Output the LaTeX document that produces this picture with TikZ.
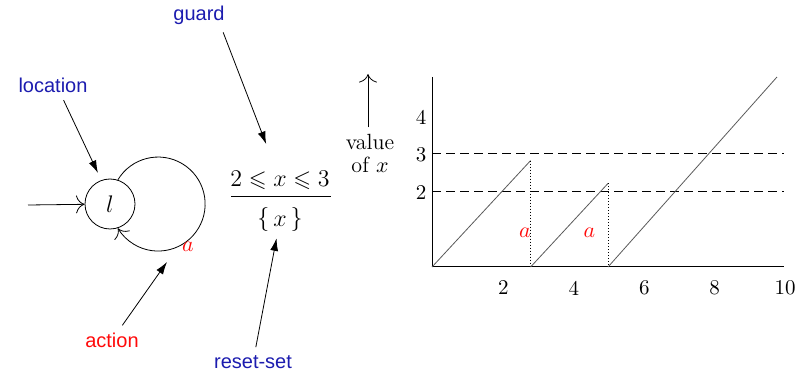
\documentclass[tikz,border=0pt]{standalone}
\usepackage{amssymb}
\usepackage{fontspec}
\newfontfamily\labelsf{Liberation Sans}
\usetikzlibrary{arrows.meta}
\definecolor{tagblue}{RGB}{28,28,175}
\definecolor{tagred}{RGB}{255,10,10}

\begin{document}
\begin{tikzpicture}[x=0.5pt,y=0.5pt]
  \useasboundingbox (0,0) rectangle (812,375);
  \tikzset{
    tag/.style={font=\labelsf\fontsize{10}{12}\selectfont,inner sep=1pt},
    pointer/.style={-{Latex[length=2.2mm,width=1.4mm]},line width=0.4pt},
    thinarrow/.style={-{To[length=1.5mm]},line width=0.4pt},
    numtag/.style={font=\fontsize{10.5}{12}\selectfont,inner sep=0pt},
    acttag/.style={font=\fontsize{11}{13}\selectfont,text=tagred,inner sep=0pt}
  }
  % automaton with one location and a self loop
  \node[circle,draw,line width=0.4pt,minimum size=25pt,inner sep=0pt,
        font=\fontsize{13}{15}\selectfont] (loc) at (110,171) {$l$};
  \coordinate (init) at (28,170);
  \draw[thinarrow] (init) -- (loc);
  \draw[thinarrow] (loc.72) arc[start angle=149,end angle=-149,radius=47];
  \node[acttag] (act) at (188,128) {$a$};
  \coordinate (looptip) at (167,113);
  % guard and reset set
  \node[font=\fontsize{11.5}{14}\selectfont,inner sep=1pt] (guardexpr) at (280,195) {$2\leqslant x\leqslant 3$};
  \node[font=\fontsize{11.5}{14}\selectfont,inner sep=1pt] (resetexpr) at (280,155) {$\{\,x\,\}$};
  \draw[line width=0.4pt] (231,179) -- (331,179);
  % labels
  \node[tag,text=tagblue] (location) at (53,290) {location};
  \node[tag,text=tagblue] (guard) at (199,360) {guard};
  \node[tag,text=tagred] (action) at (112,35) {action};
  \node[tag,text=tagblue] (reset) at (253,13) {reset-set};
  \draw[pointer,shorten <=3pt,shorten >=4pt] ([xshift=4pt]location.south) -- (loc.110);
  \draw[pointer,shorten <=3pt,shorten >=13pt] ([xshift=-3pt]guard.south east) -- (guardexpr);
  \draw[pointer,shorten <=3pt] (action) -- (looptip);
  \draw[pointer,shorten <=3pt,shorten >=2pt] (reset) -- (resetexpr);
  % value of x
  \node[align=center,font=\fontsize{11}{11.5}\selectfont,inner sep=1pt] (valx) at (370,222) {value\\of $x$};
  \coordinate (valtop) at (368,301);
  \draw[thinarrow,shorten <=2pt] (valx.north -| valtop) -- (valtop);
  % run of the clock
  \begin{scope}[shift={(432,108)},x=17.6pt,y=19pt]
    \draw[line width=0.5pt] (0,5) -- (0,0) -- (10,0);
    \foreach \v in {2,3}
      \draw[line width=0.4pt,dash pattern=on 4.5pt off 2.5pt] (0,\v) -- (10,\v);
    \foreach \t in {2,4,6,8,10}
      \node[numtag] (tick\t) at (\t+0.03,-0.55) {\t};
    \foreach \t in {2,3,4}
      \node[numtag] (lvl\t) at (-0.31,\t-0.05) {\t};
    \draw[line width=0.4pt,black!65] (0,0) -- (2.8,2.8);
    \draw[line width=0.4pt,dash pattern=on 0.5pt off 1pt] (2.8,2.8) -- (2.8,0);
    \draw[line width=0.4pt,black!65] (2.8,0) -- (5,2.2);
    \draw[line width=0.4pt,dash pattern=on 0.5pt off 1pt] (5,2.2) -- (5,0);
    \draw[line width=0.4pt,black!65] (5,0) -- (9.8,5);
    \node[acttag] (act1) at (2.64,0.9) {$a$};
    \node[acttag] (act2) at (4.47,0.9) {$a$};
  \end{scope}
\end{tikzpicture}
\end{document}
